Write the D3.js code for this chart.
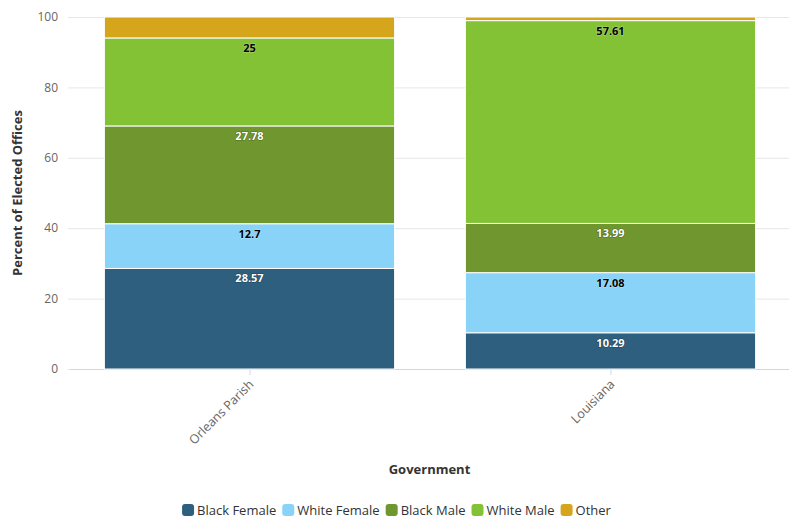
<!DOCTYPE html>
<html><head><meta charset="utf-8">
<script src="https://cdn.jsdelivr.net/npm/d3@7"></script>
<style>
body{margin:0;background:#fff;}
svg{font-family:"Open Sans",sans-serif;}
</style></head>
<body><svg id="chart" width="789" height="518"></svg>
<script>
const categories = ["Orleans Parish", "Louisiana"];
const seriesNames = ["Black Female", "White Female", "Black Male", "White Male", "Other"];
const blackFemale = [28.57, 10.29];
const whiteFemale = [12.7, 17.08];
const blackMale = [27.78, 13.99];
const whiteMale = [25, 57.61];
const other = [5.95, 1.03];
const yTicks = [0, 20, 40, 60, 80, 100];
const colors = ["#2e5f7e", "#88d3f7", "#70962f", "#82c234", "#d5a51b"];
const labelColors = ["#fff", "#000", "#fff", "#000", null];

const seriesValues = [blackFemale, whiteFemale, blackMale, whiteMale, other];
const rows = categories.map((c, i) => {
  const r = {cat: c};
  seriesNames.forEach((s, j) => r[s] = seriesValues[j][i]);
  return r;
});
const stacked = d3.stack().keys(seriesNames)(rows);

const svg = d3.select("#chart");
const m = {left: 70, right: 789, top: 17, bottom: 369};
const x = d3.scaleBand().domain(categories).range([69, 791]).paddingInner(0.196).paddingOuter(0.098);
const y = d3.scaleLinear().domain([0, 100]).range([m.bottom, m.top]);

// gridlines
svg.append("g").selectAll("line").data(yTicks).join("line")
  .attr("x1", m.left - 2).attr("x2", m.right)
  .attr("y1", d => y(d) + 0.5).attr("y2", d => y(d) + 0.5)
  .attr("stroke", "#e6e6e6").attr("stroke-width", 1);

// y tick labels
svg.append("g").selectAll("text").data(yTicks).join("text")
  .attr("x", 58).attr("y", d => y(d)).attr("dy", "0.35em")
  .attr("text-anchor", "end").attr("font-size", 12).attr("fill", "#666")
  .text(d => d);

// y title
svg.append("text")
  .attr("transform", `translate(22,${(m.top + m.bottom) / 2}) rotate(-90)`)
  .attr("text-anchor", "middle").attr("font-size", 13).attr("font-weight", "bold")
  .attr("fill", "#333").text("Percent of Elected Offices");

// x axis baseline & ticks
svg.append("line").attr("x1", m.left).attr("x2", m.right)
  .attr("y1", m.bottom + 0.5).attr("y2", m.bottom + 0.5).attr("stroke", "#ccd6eb");
svg.append("g").selectAll("line").data(categories).join("line")
  .attr("x1", d => x(d) + x.bandwidth() / 2 + 0.5).attr("x2", d => x(d) + x.bandwidth() / 2 + 0.5)
  .attr("y1", m.bottom).attr("y2", m.bottom + 6).attr("stroke", "#ccd6eb");

// bars
const g = svg.append("g");
stacked.forEach((layer, j) => {
  g.append("g").selectAll("rect").data(layer).join("rect")
    .attr("x", d => x(d.data.cat))
    .attr("width", x.bandwidth())
    .attr("y", d => y(d[1]))
    .attr("height", d => y(d[0]) - y(d[1]))
    .attr("fill", colors[j])
    .attr("stroke", "#fff").attr("stroke-width", 1);
});

// data labels
stacked.forEach((layer, j) => {
  if (!labelColors[j]) return;
  g.append("g").selectAll("text").data(layer).join("text")
    .attr("x", d => x(d.data.cat) + x.bandwidth() / 2)
    .attr("y", d => y(d[1]) + 14)
    .attr("text-anchor", "middle").attr("font-size", 11).attr("font-weight", "bold")
    .attr("fill", labelColors[j])
    .attr("stroke", labelColors[j] === "#fff" ? "#000" : "#fff")
    .attr("stroke-width", 1.2).attr("stroke-opacity", 0.35)
    .attr("paint-order", "stroke")
    .text(d => seriesValues[j][categories.indexOf(d.data.cat)]);
});

// x labels rotated
svg.append("g").selectAll("text").data(categories).join("text")
  .attr("transform", d => `translate(${x(d) + x.bandwidth() / 2 + 5},${m.bottom + 16}) rotate(-45)`)
  .attr("text-anchor", "end").attr("font-size", 12.5).attr("fill", "#666")
  .text(d => d);

// x title
svg.append("text").attr("x", (m.left + m.right) / 2).attr("y", 474)
  .attr("text-anchor", "middle").attr("font-size", 13).attr("font-weight", "bold")
  .attr("fill", "#333").text("Government");

// legend
const leg = svg.append("g");
let cx = 0;
seriesNames.forEach((s, j) => {
  const it = leg.append("g");
  it.append("rect").attr("x", 0).attr("y", -6).attr("width", 12).attr("height", 12)
    .attr("rx", 3).attr("fill", colors[j]);
  const t = it.append("text").attr("x", 15).attr("y", 0).attr("dy", "0.35em")
    .attr("font-size", 13).attr("fill", "#333").text(s);
  const w = 15 + t.node().getComputedTextLength();
  it.attr("transform", `translate(${cx},0)`);
  cx += w + 6;
});
const total = cx - 6;
leg.attr("transform", `translate(${(789 - total) / 2 + 2},510)`);
</script></body></html>
